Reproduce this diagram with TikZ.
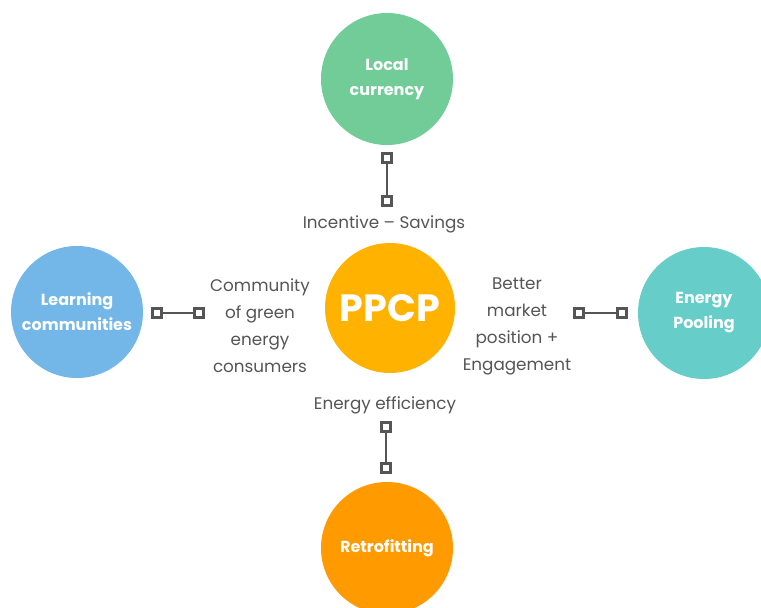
\documentclass[tikz,border=0pt]{standalone}
\usepackage{fontspec}
\setmainfont{Poppins}
\newfontfamily\lblfont{Poppins}[UprightFont=* Bold]
\definecolor{cgreen}{HTML}{72CC98}
\definecolor{cblue}{HTML}{73B7E8}
\definecolor{cteal}{HTML}{66CDC8}
\definecolor{corange}{HTML}{FF9A00}
\definecolor{ccenter}{HTML}{FFB300}
\definecolor{cgray}{HTML}{555555}
\begin{document}
\begin{tikzpicture}[x=1pt,y=-1pt,
  bubble/.style={circle,minimum size=132pt,inner sep=0pt,text=white,align=center,font=\lblfont\fontsize{16}{25}\selectfont},
  pin/.style={draw=cgray,line width=2.4pt,minimum size=9pt,inner sep=0pt,fill=white},
  link/.style={draw=cgray,line width=2.4pt},
  note/.style={text=cgray,align=center,font=\fontsize{16.8}{27}\selectfont}]
\path[use as bounding box] (0,0) rectangle (761,608);
\node[bubble,fill=cgreen] (local) at (387,79) {Local\\currency};
\node[bubble,fill=cblue] (learn) at (77,312) {Learning\\communities};
\node[bubble,fill=cteal] (pool) at (704,313) {Energy\\Pooling};
\node[bubble,fill=corange] (retro) at (387,548) {Retrofitting};
\node[bubble,fill=ccenter,minimum size=130pt,font=\lblfont\fontsize{38}{40}\selectfont] (ppcp) at (390,308) {PPCP};
\node[pin] (t1) at (387,158) {};
\node[pin] (t2) at (387,201) {};
\node[pin] (l1) at (157,313) {};
\node[pin] (l2) at (199,313) {};
\node[pin] (r1) at (579,313) {};
\node[pin] (r2) at (622,313) {};
\node[pin] (b1) at (386,427) {};
\node[pin] (b2) at (386,468) {};
\draw[link] (t1) -- (t2);
\draw[link] (l1) -- (l2);
\draw[link] (r1) -- (r2);
\draw[link] (b1) -- (b2);
\node[note] (inc) at (384,224) {Incentive -- Savings};
\node[note] (eff) at (385,405) {Energy efficiency};
\node[note] (comm) at (260,326) {Community\\of green\\energy\\consumers};
\node[note] (mark) at (517,326) {Better\\market\\position +\\Engagement};
\end{tikzpicture}
\end{document}
